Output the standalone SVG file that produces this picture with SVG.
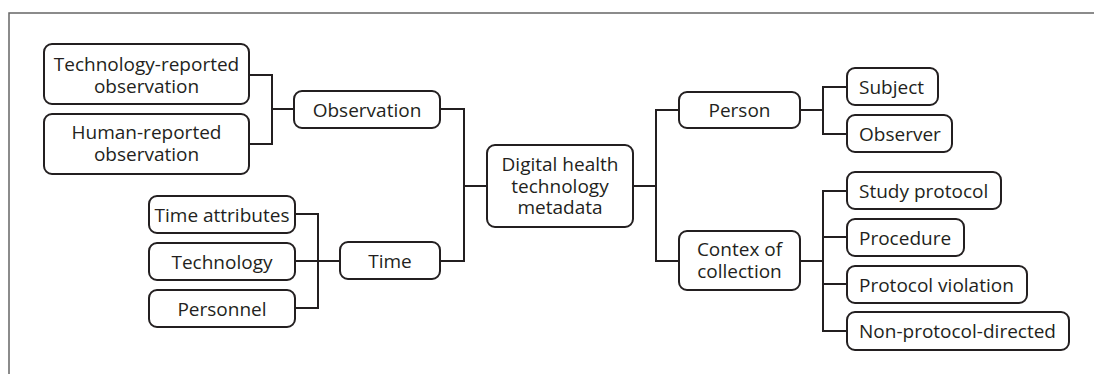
<svg xmlns="http://www.w3.org/2000/svg" width="1094" height="374" viewBox="0 0 1094 374">
<style>
.box{fill:#fff;stroke:#231f20;stroke-width:2}
.t{font-family:"Open Sans","Noto Sans","Liberation Sans",sans-serif;font-size:19px;fill:#231f20;text-anchor:middle}
.l{text-anchor:start}
.c{fill:none;stroke:#231f20;stroke-width:2}
.frame{fill:none;stroke:#666;stroke-width:1.5}
</style>
<rect width="1094" height="374" fill="#fff"/>
<path class="frame" d="M9,374 V13 H1094"/>
<g id="connectors">
<path class="c" d="M249,75 H272 V144 H249 M272,109 H294"/>
<path class="c" d="M440,109 H464 V261 H440 M464,186 H487"/>
<path class="c" d="M295,214 H318 V308 H295 M295,261 H340"/>
<path class="c" d="M633,186 H656 M679,110 H656 V261 H679"/>
<path class="c" d="M800,110 H823 M847,87 H823 V134 H847"/>
<path class="c" d="M800,261 H823 M847,191 H823 V331 H847 M823,237 H847 M823,284 H847"/>
</g>
<g id="tech-reported"><rect class="box" x="44" y="44" width="205" height="60" rx="8"/><text class="t" x="146.5" y="70.5">Technology-reported<tspan x="146.5" dy="22">observation</tspan></text></g>
<g id="human-reported"><rect class="box" x="44" y="114" width="205" height="60" rx="8"/><text class="t" x="146.5" y="139">Human-reported<tspan x="146.5" dy="22">observation</tspan></text></g>
<g id="observation"><rect class="box" x="294" y="91" width="146" height="37" rx="8"/><text class="t" x="367" y="116.5">Observation</text></g>
<g id="time-attributes"><rect class="box" x="149" y="196" width="146" height="37" rx="8"/><text class="t" x="222" y="221.5">Time attributes</text></g>
<g id="technology"><rect class="box" x="149" y="243" width="146" height="37" rx="8"/><text class="t" x="222" y="268.5">Technology</text></g>
<g id="personnel"><rect class="box" x="149" y="290" width="146" height="37" rx="8"/><text class="t" x="222" y="315.5">Personnel</text></g>
<g id="time"><rect class="box" x="340" y="242" width="100" height="37" rx="8"/><text class="t" x="390" y="267.5">Time</text></g>
<g id="dht-metadata"><rect class="box" x="487" y="145" width="146" height="82" rx="8"/><text class="t" x="560" y="170.5">Digital health<tspan x="560" dy="22">technology</tspan><tspan x="560" dy="21.5">metadata</tspan></text></g>
<g id="person"><rect class="box" x="679" y="92" width="121" height="36" rx="8"/><text class="t" x="739.5" y="117">Person</text></g>
<g id="context"><rect class="box" x="679" y="231" width="121" height="59" rx="8"/><text class="t" x="739.5" y="256">Contex of<tspan x="739.5" dy="22">collection</tspan></text></g>
<g id="subject"><rect class="box" x="847" y="68" width="91" height="37" rx="8"/><text class="t l" x="859" y="93.5">Subject</text></g>
<g id="observer"><rect class="box" x="847" y="115" width="105" height="37" rx="8"/><text class="t l" x="859" y="140.5">Observer</text></g>
<g id="study-protocol"><rect class="box" x="847" y="172" width="154" height="37" rx="8"/><text class="t l" x="859" y="197.5">Study protocol</text></g>
<g id="procedure"><rect class="box" x="847" y="219" width="117" height="37" rx="8"/><text class="t l" x="859" y="244.5">Procedure</text></g>
<g id="protocol-violation"><rect class="box" x="847" y="266" width="180" height="37" rx="8"/><text class="t l" x="859" y="291.5">Protocol violation</text></g>
<g id="non-protocol"><rect class="box" x="847" y="312" width="222" height="38" rx="8"/><text class="t l" x="859" y="338">Non-protocol-directed</text></g>
</svg>
